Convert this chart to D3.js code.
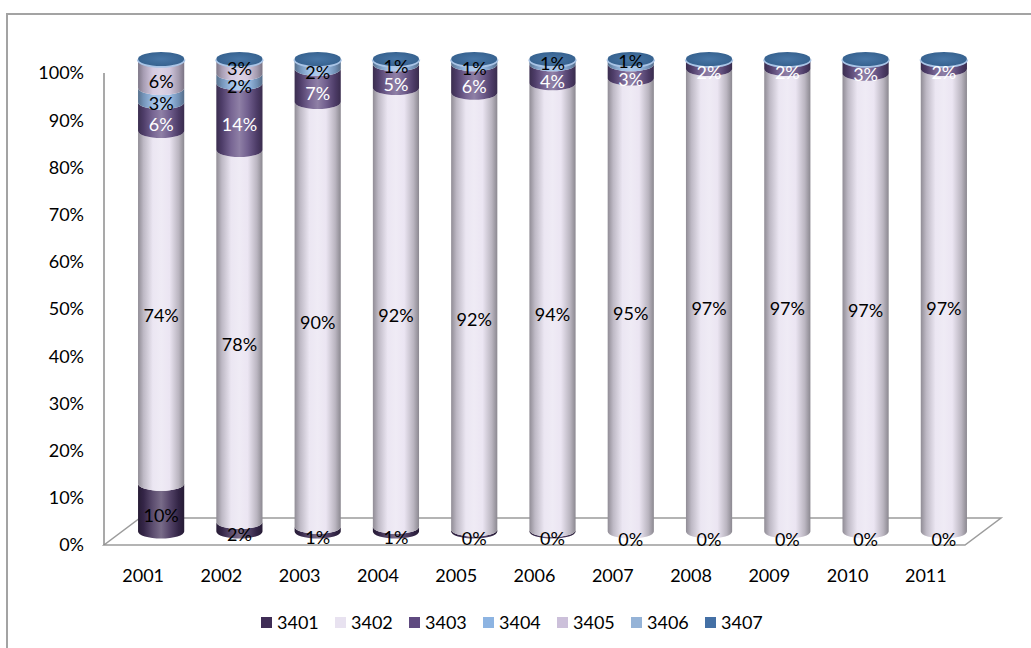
<!DOCTYPE html>
<html>
<head>
<meta charset="utf-8">
<script src="https://cdn.jsdelivr.net/npm/d3@7"></script>
<style>
  html, body { margin: 0; padding: 0; background: #fff; }
  svg { display: block; font-family: Lato, "Open Sans", sans-serif; }
</style>
</head>
<body>
<svg id="chart" width="1031" height="648"></svg>
<script>
// Years on the category axis
const years = ["2001","2002","2003","2004","2005","2006","2007","2008","2009","2010","2011"];

// Share of each product group per year (percent)
const s3401 = [10, 2, 1, 1, 0.4, 0.3, 0, 0, 0, 0, 0];
const s3402 = [74, 78, 90, 92, 92, 94, 95, 97, 97, 97, 97];
const s3403 = [6, 14, 7, 5, 6, 4, 3, 2, 2, 3, 2];
const s3404 = [3, 2, 2, 1, 1, 1, 1, 0, 0, 0, 0];
const s3405 = [6, 3, 0, 0, 0, 0, 0, 0, 0, 0, 0];
const s3406 = [0, 0, 0, 0, 0, 0, 0, 0, 0, 0, 0];
const s3407 = [0, 0, 0, 0, 0, 0, 0, 0, 0, 0, 0];

const seriesNames = ["3401","3402","3403","3404","3405","3406","3407"];
const seriesValues = [s3401, s3402, s3403, s3404, s3405, s3406, s3407];
const seriesColors = ["#3f2d56","#e8e2f0","#5f4a80","#8db4e2","#ccc0da","#95b3d7","#4470a5"];
const labelColors  = ["#000","#000","#fff","#000","#000","#000","#000"];
const showLabels   = [true, true, true, true, true, false, false];

// Axis tick values
const yTicks = [0, 0.1, 0.2, 0.3, 0.4, 0.5, 0.6, 0.7, 0.8, 0.9, 1.0];

const fontSize = 18;

// Table for the stack layout
const rows = years.map((yr, i) => {
  const r = { year: yr };
  seriesNames.forEach((k, j) => r[k] = seriesValues[j][i]);
  return r;
});

const svg = d3.select("#chart");

// Frame around the chart area
svg.append("path")
  .attr("d", "M7,660 L7,14 L1040,14")
  .attr("fill", "none").attr("stroke", "#a3a3a3").attr("stroke-width", 2);

// Front plane scales and 3D depth offset
const x = d3.scaleBand().domain(years).range([104, 965]).padding(0);
const y = d3.scaleLinear().domain([0, 1]).range([545, 73]);
const depthX = 36, depthY = -27;
const cx = d => x(d) + x.bandwidth() / 2 + depthX / 2;
const cy = v => y(v) + depthY / 2;
const rx = x.bandwidth() * 0.295;
const ry = 7;

// Floor
const floorPts = [[104, 545], [965, 545], [965 + depthX, 545 + depthY], [104 + depthX, 545 + depthY]];
svg.append("path")
  .attr("d", d3.line()(floorPts) + "Z")
  .attr("fill", "none").attr("stroke", "#9c9c9c").attr("stroke-width", 1.5);

// Value axis line and labels
svg.append("line")
  .attr("x1", 104).attr("x2", 104)
  .attr("y1", y(1)).attr("y2", y(0))
  .attr("stroke", "#8c8c8c").attr("stroke-width", 1.5);

svg.append("g").selectAll("text")
  .data(yTicks).join("text")
  .attr("x", 84).attr("y", d => y(d))
  .attr("dy", "0.36em")
  .attr("text-anchor", "end")
  .attr("font-size", fontSize)
  .attr("fill", "#000")
  .text(d => d3.format(".0%")(d));

// Category labels
svg.append("g").selectAll("text")
  .data(years).join("text")
  .attr("x", d => x(d) + x.bandwidth() / 2)
  .attr("y", 576)
  .attr("dy", "0.36em")
  .attr("text-anchor", "middle")
  .attr("font-size", fontSize)
  .attr("fill", "#000")
  .text(d => d);

// Side shading for each series
const defs = svg.append("defs");
seriesColors.forEach((c, i) => {
  const g = defs.append("linearGradient")
    .attr("id", "grad" + i).attr("x1", "0").attr("x2", "1").attr("y1", "0").attr("y2", "0");
  const dark = t => d3.interpolateRgb(c, "#000")(t);
  const light = t => d3.interpolateRgb(c, "#fff")(t);
  const stops = [
    [0, dark(0.38)], [0.12, dark(0.18)], [0.32, light(0.15)],
    [0.5, light(0.3)], [0.68, light(0.12)], [0.88, dark(0.2)], [1, dark(0.4)]
  ];
  stops.forEach(([o, col]) => g.append("stop").attr("offset", o).attr("stop-color", col));
});
const capGrad = defs.append("radialGradient").attr("id", "capGrad")
  .attr("cx", "0.5").attr("cy", "0.5").attr("r", "0.6");
capGrad.append("stop").attr("offset", 0).attr("stop-color", "#4876a6");
capGrad.append("stop").attr("offset", 1).attr("stop-color", "#345f8c");

const stack = d3.stack().keys(seriesNames).offset(d3.stackOffsetExpand);
const stacked = stack(rows);

// Side face of one cylinder segment between two stacked values
function segmentPath(yr, v0, v1) {
  const c = cx(yr), l = c - rx, r = c + rx;
  const yt = cy(v1), yb = cy(v0);
  return `M${l},${yt} A${rx},${ry} 0 0 0 ${r},${yt} L${r},${yb} A${rx},${ry} 0 0 1 ${l},${yb} Z`;
}

const cylG = svg.append("g");
years.forEach((yr, i) => {
  const g = cylG.append("g");
  stacked.forEach((layer, j) => {
    const [v0, v1] = layer[i];
    if (v1 - v0 <= 0) return;
    g.append("path")
      .attr("d", segmentPath(yr, v0, v1))
      .attr("fill", `url(#grad${j})`);
  });
  // Top cap
  const c = cx(yr), yt = cy(1);
  g.append("path")
    .attr("d", `M${c - rx},${yt} A${rx},${ry} 0 0 0 ${c + rx},${yt}`)
    .attr("fill", "none").attr("stroke", "#a9c4e6").attr("stroke-width", 2.5);
  g.append("ellipse")
    .attr("cx", c).attr("cy", yt - 0.5)
    .attr("rx", rx).attr("ry", ry)
    .attr("fill", "url(#capGrad)");
});

// Data labels on the front of each segment, stacked upward so thin
// segments near the top do not sit on the label below them
const labG = svg.append("g");
const minGap = 18;
years.forEach((yr, i) => {
  let prevY = Infinity;
  stacked.forEach((layer, j) => {
    if (!showLabels[j]) return;
    const val = seriesValues[j][i];
    if (val <= 0 && j !== 0) return;
    const seg = layer[i];
    let yc = (cy(seg[0]) + cy(seg[1])) / 2 + ry + 1;
    yc = Math.min(yc, prevY - minGap);
    prevY = yc;
    labG.append("text")
      .attr("x", cx(yr))
      .attr("y", yc)
      .attr("dy", "0.36em")
      .attr("text-anchor", "middle")
      .attr("font-size", fontSize)
      .attr("fill", labelColors[j])
      .text(Math.round(val) + "%");
  });
});

// Legend
const legend = svg.append("g");
seriesNames.forEach((name, i) => {
  const lx = 261 + i * 74;
  legend.append("rect")
    .attr("x", lx).attr("y", 617).attr("width", 11).attr("height", 11)
    .attr("fill", seriesColors[i]);
  legend.append("text")
    .attr("x", lx + 16).attr("y", 623)
    .attr("dy", "0.36em")
    .attr("font-size", fontSize)
    .attr("fill", "#000")
    .text(name);
});
</script>
</body>
</html>
